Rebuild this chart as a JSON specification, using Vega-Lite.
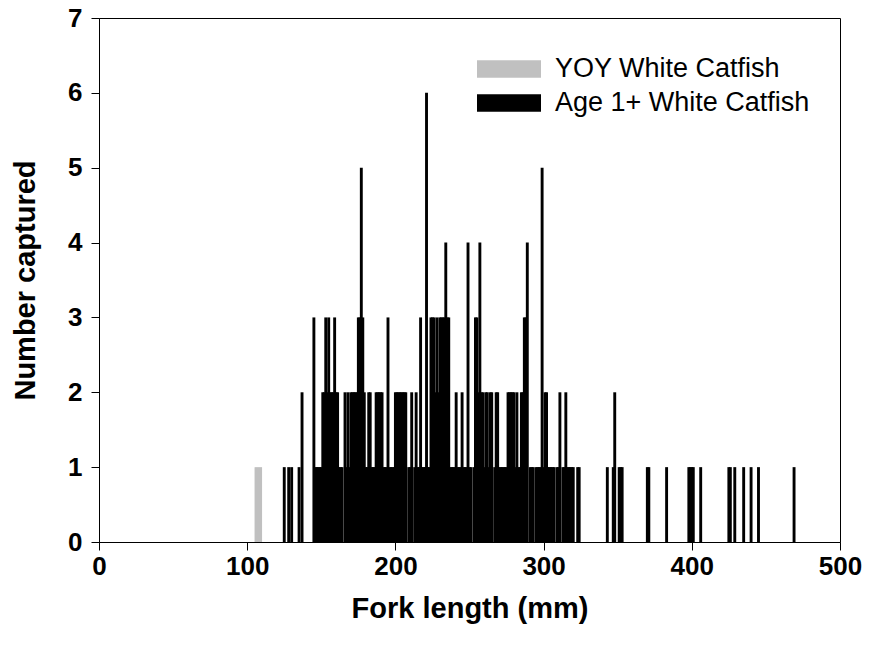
{
  "$schema": "https://vega.github.io/schema/vega-lite/v6.json",
  "width": 741,
  "height": 524,
  "autosize": {"type": "none"},
  "padding": {"left": 99, "top": 18, "right": 30, "bottom": 110},
  "background": "white",
  "config": {
    "view": {"stroke": "black", "strokeWidth": 1},
    "font": "Liberation Sans",
    "axis": {"grid": false, "labelFlush": false, "labelOverlap": false, "domainColor": "black", "tickColor": "black", "labelColor": "black", "titleColor": "black", "labelFont": "Liberation Sans", "titleFont": "Liberation Sans", "labelFontWeight": "bold", "titleFontWeight": "bold", "labelFontSize": 26, "titleFontSize": 29, "tickSize": 8, "domainWidth": 1, "tickWidth": 1}
  },
  "datasets": {
    "yoy": [{"fl": 107.5, "n": 1, "group": "YOY White Catfish"}],
    "age": [
      {"fl":125,"n":1},{"fl":128,"n":1},{"fl":130,"n":1},{"fl":135,"n":1},{"fl":137,"n":2},
      {"fl":145,"n":3},{"fl":146,"n":1},{"fl":147,"n":1},{"fl":148,"n":1},{"fl":149,"n":1},{"fl":150,"n":1},
      {"fl":151,"n":2},{"fl":152,"n":2},{"fl":153,"n":3},{"fl":154,"n":2},{"fl":155,"n":3},{"fl":156,"n":2},{"fl":157,"n":2},{"fl":158,"n":2},{"fl":159,"n":3},{"fl":160,"n":2},{"fl":161,"n":2},
      {"fl":162,"n":1},{"fl":163,"n":1},{"fl":164,"n":1},
      {"fl":166,"n":2},{"fl":167,"n":1},{"fl":168,"n":2},{"fl":169,"n":1},{"fl":170,"n":2},{"fl":171,"n":2},{"fl":172,"n":2},{"fl":173,"n":2},{"fl":174,"n":2},{"fl":175,"n":3},{"fl":176,"n":3},{"fl":177,"n":5},{"fl":178,"n":3},{"fl":179,"n":2},
      {"fl":180,"n":1},{"fl":181,"n":1},{"fl":182,"n":2},{"fl":183,"n":2},{"fl":184,"n":1},{"fl":185,"n":1},{"fl":186,"n":1},{"fl":187,"n":2},{"fl":188,"n":2},{"fl":189,"n":2},{"fl":190,"n":2},{"fl":191,"n":2},{"fl":192,"n":1},{"fl":193,"n":1},{"fl":194,"n":1},{"fl":195,"n":3},{"fl":196,"n":1},{"fl":197,"n":1},{"fl":198,"n":1},{"fl":199,"n":1},
      {"fl":200,"n":2},{"fl":201,"n":2},{"fl":202,"n":2},{"fl":203,"n":2},{"fl":204,"n":2},{"fl":205,"n":2},{"fl":206,"n":2},{"fl":207,"n":2},
      {"fl":209,"n":1},{"fl":210,"n":1},{"fl":211,"n":2},{"fl":213,"n":1},{"fl":214,"n":2},{"fl":215,"n":1},{"fl":216,"n":1},{"fl":217,"n":3},{"fl":218,"n":1},{"fl":219,"n":1},{"fl":220,"n":1},{"fl":221,"n":6},{"fl":222,"n":1},{"fl":223,"n":1},
      {"fl":224,"n":3},{"fl":225,"n":3},{"fl":226,"n":3},{"fl":227,"n":2},{"fl":228,"n":3},{"fl":229,"n":2},{"fl":230,"n":3},{"fl":231,"n":3},{"fl":232,"n":3},{"fl":233,"n":3},{"fl":234,"n":4},{"fl":235,"n":3},{"fl":236,"n":3},
      {"fl":237,"n":1},{"fl":238,"n":1},{"fl":239,"n":1},{"fl":240,"n":1},{"fl":241,"n":2},{"fl":242,"n":1},{"fl":243,"n":1},{"fl":244,"n":1},{"fl":245,"n":2},{"fl":246,"n":1},{"fl":247,"n":1},{"fl":248,"n":1},{"fl":249,"n":4},{"fl":250,"n":1},{"fl":251,"n":1},
      {"fl":253,"n":1},{"fl":254,"n":3},{"fl":255,"n":3},{"fl":256,"n":2},{"fl":257,"n":4},{"fl":258,"n":2},{"fl":259,"n":2},{"fl":260,"n":1},{"fl":261,"n":2},{"fl":262,"n":2},{"fl":263,"n":1},{"fl":264,"n":2},{"fl":265,"n":2},
      {"fl":267,"n":1},{"fl":268,"n":2},{"fl":269,"n":2},{"fl":270,"n":1},{"fl":271,"n":1},{"fl":272,"n":1},{"fl":273,"n":1},{"fl":274,"n":1},{"fl":275,"n":1},
      {"fl":276,"n":2},{"fl":277,"n":2},{"fl":278,"n":2},{"fl":279,"n":2},{"fl":280,"n":2},{"fl":281,"n":1},{"fl":282,"n":2},{"fl":283,"n":1},{"fl":284,"n":1},{"fl":285,"n":2},{"fl":286,"n":2},{"fl":287,"n":3},{"fl":288,"n":3},{"fl":289,"n":4},
      {"fl":291,"n":1},{"fl":292,"n":1},{"fl":293,"n":1},{"fl":295,"n":1},{"fl":296,"n":1},{"fl":297,"n":1},{"fl":298,"n":1},{"fl":299,"n":5},{"fl":300,"n":1},{"fl":301,"n":2},{"fl":302,"n":2},{"fl":303,"n":1},{"fl":304,"n":1},{"fl":305,"n":1},{"fl":306,"n":1},{"fl":307,"n":1},
      {"fl":309,"n":1},{"fl":310,"n":1},{"fl":311,"n":2},{"fl":313,"n":1},{"fl":314,"n":1},{"fl":315,"n":2},{"fl":316,"n":1},{"fl":317,"n":1},{"fl":318,"n":1},{"fl":319,"n":1},{"fl":320,"n":1},{"fl":323,"n":1},{"fl":324,"n":1},
      {"fl":343,"n":1},{"fl":347,"n":1},{"fl":348,"n":2},{"fl":351,"n":1},{"fl":352,"n":1},{"fl":353,"n":1},{"fl":370,"n":1},{"fl":371,"n":1},{"fl":383,"n":1},{"fl":398,"n":1},{"fl":399,"n":1},{"fl":400,"n":1},{"fl":401,"n":1},{"fl":406,"n":1},{"fl":425,"n":1},{"fl":426,"n":1},{"fl":429,"n":1},{"fl":435,"n":1},{"fl":440,"n":1},{"fl":445,"n":1},{"fl":469,"n":1}
    ]
  },
  "encoding": {
    "x": {"field": "fl", "type": "quantitative", "scale": {"domain": [0, 500], "nice": false, "zero": true, "padding": 0}, "axis": {"values": [0, 100, 200, 300, 400, 500], "title": "Fork length (mm)", "labelPadding": 3, "titleBaseline": "alphabetic", "titleY": 75}},
    "y": {"field": "n", "type": "quantitative", "stack": null, "scale": {"domain": [0, 7], "nice": false, "padding": 0}, "axis": {"values": [0, 1, 2, 3, 4, 5, 6, 7], "title": "Number captured", "labelPadding": 9, "titleX": -59, "titleY": 262}},
    "color": {"field": "group", "type": "nominal", "scale": {"domain": ["YOY White Catfish", "Age 1+ White Catfish"], "range": ["#c0c0c0", "#000000"]},
      "legend": {"title": null, "orient": "none", "legendX": 378, "legendY": 34, "symbolType": "M-1,-0.27L1,-0.27L1,0.27L-1,0.27Z", "symbolSize": 4096, "symbolStrokeWidth": 0, "symbolOpacity": 1, "labelFontSize": 27, "labelFont": "Liberation Sans", "labelColor": "black", "labelOffset": 14, "labelLimit": 500, "clipHeight": 34, "rowPadding": 0}}
  },
  "layer": [
    {"data": {"name": "yoy"}, "mark": {"type": "bar", "orient": "vertical", "size": 7.5, "strokeWidth": 0}},
    {"data": {"name": "age"}, "transform": [{"calculate": "'Age 1+ White Catfish'", "as": "group"}], "mark": {"type": "bar", "orient": "vertical", "size": 2.9, "strokeWidth": 0}}
  ]
}
